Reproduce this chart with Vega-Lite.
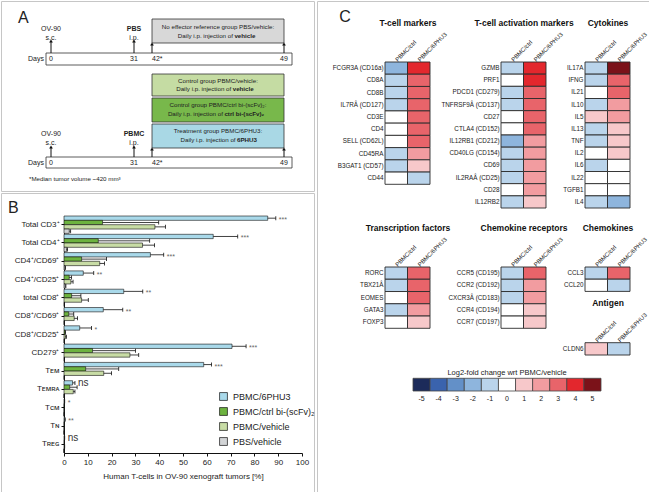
{
  "$schema": "https://vega.github.io/schema/vega-lite/v6.json",
  "padding": 0,
  "background": "white",
  "config": {
    "font": "Liberation Sans",
    "view": {"stroke": null},
    "axis": {"grid": false, "labelColor": "#222", "domainColor": "#111", "tickColor": "#111", "titleColor": "#222", "titleFontWeight": "normal"}
  },
  "datasets": {
    "tcells": [
      {"cat": "Total CD3⁺", "grp": "PBMC/6PHU3", "mean": 85.6, "upper": 89, "sig": "***"},
      {"cat": "Total CD3⁺", "grp": "PBMC/ctrl bi-(scFv)₂", "mean": 16.2, "upper": 39.8},
      {"cat": "Total CD3⁺", "grp": "PBMC/vehicle", "mean": 38.2, "upper": 42.6},
      {"cat": "Total CD3⁺", "grp": "PBS/vehicle", "mean": 2.2, "upper": 2.8},
      {"cat": "Total CD4⁺", "grp": "PBMC/6PHU3", "mean": 62.7, "upper": 73, "sig": "***"},
      {"cat": "Total CD4⁺", "grp": "PBMC/ctrl bi-(scFv)₂", "mean": 14.4, "upper": 36},
      {"cat": "Total CD4⁺", "grp": "PBMC/vehicle", "mean": 33, "upper": 38},
      {"cat": "Total CD4⁺", "grp": "PBS/vehicle", "mean": 1.1, "upper": 1.5},
      {"cat": "CD4⁺/CD69⁺", "grp": "PBMC/6PHU3", "mean": 36.3, "upper": 41.9, "sig": "***"},
      {"cat": "CD4⁺/CD69⁺", "grp": "PBMC/ctrl bi-(scFv)₂", "mean": 7.4, "upper": 17.9},
      {"cat": "CD4⁺/CD69⁺", "grp": "PBMC/vehicle", "mean": 15, "upper": 17},
      {"cat": "CD4⁺/CD69⁺", "grp": "PBS/vehicle", "mean": 0.4, "upper": 0.6},
      {"cat": "CD4⁺/CD25⁺", "grp": "PBMC/6PHU3", "mean": 8.1, "upper": 12.5, "sig": "**"},
      {"cat": "CD4⁺/CD25⁺", "grp": "PBMC/ctrl bi-(scFv)₂", "mean": 2.2, "upper": 3.2},
      {"cat": "CD4⁺/CD25⁺", "grp": "PBMC/vehicle", "mean": 2.9, "upper": 3.8},
      {"cat": "CD4⁺/CD25⁺", "grp": "PBS/vehicle", "mean": 0.5, "upper": 0.8},
      {"cat": "total CD8⁺", "grp": "PBMC/6PHU3", "mean": 25.1, "upper": 33.1, "sig": "**"},
      {"cat": "total CD8⁺", "grp": "PBMC/ctrl bi-(scFv)₂", "mean": 3.2, "upper": 7.1},
      {"cat": "total CD8⁺", "grp": "PBMC/vehicle", "mean": 7.4, "upper": 10.2},
      {"cat": "total CD8⁺", "grp": "PBS/vehicle", "mean": 0.1, "upper": 0.2},
      {"cat": "CD8⁺/CD69⁺", "grp": "PBMC/6PHU3", "mean": 16.5, "upper": 24.7, "sig": "**"},
      {"cat": "CD8⁺/CD69⁺", "grp": "PBMC/ctrl bi-(scFv)₂", "mean": 2, "upper": 4.1},
      {"cat": "CD8⁺/CD69⁺", "grp": "PBMC/vehicle", "mean": 4.3, "upper": 5.7},
      {"cat": "CD8⁺/CD69⁺", "grp": "PBS/vehicle", "mean": 0.1, "upper": 0.1},
      {"cat": "CD8⁺/CD25⁺", "grp": "PBMC/6PHU3", "mean": 6.6, "upper": 11.6, "sig": "*"},
      {"cat": "CD8⁺/CD25⁺", "grp": "PBMC/ctrl bi-(scFv)₂", "mean": 0.4, "upper": 0.6},
      {"cat": "CD8⁺/CD25⁺", "grp": "PBMC/vehicle", "mean": 0.6, "upper": 1},
      {"cat": "CD8⁺/CD25⁺", "grp": "PBS/vehicle", "mean": 0.1, "upper": 0.1},
      {"cat": "CD279⁺", "grp": "PBMC/6PHU3", "mean": 70.6, "upper": 76.5, "sig": "***"},
      {"cat": "CD279⁺", "grp": "PBMC/ctrl bi-(scFv)₂", "mean": 12, "upper": 30},
      {"cat": "CD279⁺", "grp": "PBMC/vehicle", "mean": 27.7, "upper": 31.4},
      {"cat": "CD279⁺", "grp": "PBS/vehicle", "mean": 0.1, "upper": 0.2},
      {"cat": "Tᴇᴍ", "grp": "PBMC/6PHU3", "mean": 58.7, "upper": 62, "sig": "***"},
      {"cat": "Tᴇᴍ", "grp": "PBMC/ctrl bi-(scFv)₂", "mean": 9.1, "upper": 23},
      {"cat": "Tᴇᴍ", "grp": "PBMC/vehicle", "mean": 16.7, "upper": 20},
      {"cat": "Tᴇᴍ", "grp": "PBS/vehicle", "mean": 0.1, "upper": 0.1},
      {"cat": "Tᴇᴍʀᴀ", "grp": "PBMC/6PHU3", "mean": 3.6, "upper": 4.6, "sig": "ns"},
      {"cat": "Tᴇᴍʀᴀ", "grp": "PBMC/ctrl bi-(scFv)₂", "mean": 2.4, "upper": 5.5},
      {"cat": "Tᴇᴍʀᴀ", "grp": "PBMC/vehicle", "mean": 3.9, "upper": 4.6},
      {"cat": "Tᴇᴍʀᴀ", "grp": "PBS/vehicle", "mean": 0.05, "upper": 0.05},
      {"cat": "Tᴄᴍ", "grp": "PBMC/6PHU3", "mean": 0.2, "upper": 0.3, "sig": "*"},
      {"cat": "Tᴄᴍ", "grp": "PBMC/ctrl bi-(scFv)₂", "mean": 0.1, "upper": 0.1},
      {"cat": "Tᴄᴍ", "grp": "PBMC/vehicle", "mean": 0.1, "upper": 0.1},
      {"cat": "Tᴄᴍ", "grp": "PBS/vehicle", "mean": 0, "upper": 0},
      {"cat": "Tɴ", "grp": "PBMC/6PHU3", "mean": 0.3, "upper": 0.5, "sig": "**"},
      {"cat": "Tɴ", "grp": "PBMC/ctrl bi-(scFv)₂", "mean": 0.1, "upper": 0.1},
      {"cat": "Tɴ", "grp": "PBMC/vehicle", "mean": 0.1, "upper": 0.1},
      {"cat": "Tɴ", "grp": "PBS/vehicle", "mean": 0, "upper": 0},
      {"cat": "Tʀᴇɢ", "grp": "PBMC/6PHU3", "mean": 0.2, "upper": 0.3, "sig": "ns"},
      {"cat": "Tʀᴇɢ", "grp": "PBMC/ctrl bi-(scFv)₂", "mean": 0.1, "upper": 0.2},
      {"cat": "Tʀᴇɢ", "grp": "PBMC/vehicle", "mean": 0.2, "upper": 0.3},
      {"cat": "Tʀᴇɢ", "grp": "PBS/vehicle", "mean": 0, "upper": 0}
    ],
    "hm": [
      {"g": "T-cell markers", "gene": "FCGR3A (CD16a)", "PBMC/ctrl": -2, "PBMC/6PHU3": 4},
      {"g": "T-cell markers", "gene": "CD8A", "PBMC/ctrl": -1, "PBMC/6PHU3": 3},
      {"g": "T-cell markers", "gene": "CD8B", "PBMC/ctrl": -1, "PBMC/6PHU3": 3},
      {"g": "T-cell markers", "gene": "IL7RÂ (CD127)", "PBMC/ctrl": -1, "PBMC/6PHU3": 3},
      {"g": "T-cell markers", "gene": "CD3E", "PBMC/ctrl": 0, "PBMC/6PHU3": 3},
      {"g": "T-cell markers", "gene": "CD4", "PBMC/ctrl": 0, "PBMC/6PHU3": 3},
      {"g": "T-cell markers", "gene": "SELL (CD62L)", "PBMC/ctrl": 0, "PBMC/6PHU3": 3},
      {"g": "T-cell markers", "gene": "CD45RA", "PBMC/ctrl": -1, "PBMC/6PHU3": 2},
      {"g": "T-cell markers", "gene": "B3GAT1 (CD57)", "PBMC/ctrl": -1, "PBMC/6PHU3": 1},
      {"g": "T-cell markers", "gene": "CD44", "PBMC/ctrl": 0, "PBMC/6PHU3": -1},
      {"g": "T-cell activation markers", "gene": "GZMB", "PBMC/ctrl": -1, "PBMC/6PHU3": 4},
      {"g": "T-cell activation markers", "gene": "PRF1", "PBMC/ctrl": 0, "PBMC/6PHU3": 4},
      {"g": "T-cell activation markers", "gene": "PDCD1 (CD279)", "PBMC/ctrl": -1, "PBMC/6PHU3": 3},
      {"g": "T-cell activation markers", "gene": "TNFRSF9Â (CD137)", "PBMC/ctrl": -1, "PBMC/6PHU3": 3},
      {"g": "T-cell activation markers", "gene": "CD27", "PBMC/ctrl": 0, "PBMC/6PHU3": 3},
      {"g": "T-cell activation markers", "gene": "CTLA4 (CD152)", "PBMC/ctrl": 0, "PBMC/6PHU3": 3},
      {"g": "T-cell activation markers", "gene": "IL12RB1 (CD212)", "PBMC/ctrl": -2, "PBMC/6PHU3": 2},
      {"g": "T-cell activation markers", "gene": "CD40LG (CD154)", "PBMC/ctrl": -1, "PBMC/6PHU3": 2},
      {"g": "T-cell activation markers", "gene": "CD69", "PBMC/ctrl": -1, "PBMC/6PHU3": 2},
      {"g": "T-cell activation markers", "gene": "IL2RAÂ (CD25)", "PBMC/ctrl": -1, "PBMC/6PHU3": 2},
      {"g": "T-cell activation markers", "gene": "CD28", "PBMC/ctrl": 0, "PBMC/6PHU3": 2},
      {"g": "T-cell activation markers", "gene": "IL12RB2", "PBMC/ctrl": -1, "PBMC/6PHU3": 1},
      {"g": "Cytokines", "gene": "IL17A", "PBMC/ctrl": -1, "PBMC/6PHU3": 5},
      {"g": "Cytokines", "gene": "IFNG", "PBMC/ctrl": -1, "PBMC/6PHU3": 3},
      {"g": "Cytokines", "gene": "IL21", "PBMC/ctrl": 0, "PBMC/6PHU3": 3},
      {"g": "Cytokines", "gene": "IL10", "PBMC/ctrl": -1, "PBMC/6PHU3": 2},
      {"g": "Cytokines", "gene": "IL5", "PBMC/ctrl": 1, "PBMC/6PHU3": 2},
      {"g": "Cytokines", "gene": "IL13", "PBMC/ctrl": -1, "PBMC/6PHU3": 1},
      {"g": "Cytokines", "gene": "TNF", "PBMC/ctrl": -1, "PBMC/6PHU3": 1},
      {"g": "Cytokines", "gene": "IL2", "PBMC/ctrl": 0, "PBMC/6PHU3": 1},
      {"g": "Cytokines", "gene": "IL6", "PBMC/ctrl": -1, "PBMC/6PHU3": 0},
      {"g": "Cytokines", "gene": "IL22", "PBMC/ctrl": 0, "PBMC/6PHU3": 0},
      {"g": "Cytokines", "gene": "TGFB1", "PBMC/ctrl": 0, "PBMC/6PHU3": 0},
      {"g": "Cytokines", "gene": "IL4", "PBMC/ctrl": -1, "PBMC/6PHU3": -2},
      {"g": "Transcription factors", "gene": "RORC", "PBMC/ctrl": -1, "PBMC/6PHU3": 3},
      {"g": "Transcription factors", "gene": "TBX21Â", "PBMC/ctrl": -1, "PBMC/6PHU3": 3},
      {"g": "Transcription factors", "gene": "EOMES", "PBMC/ctrl": 0, "PBMC/6PHU3": 3},
      {"g": "Transcription factors", "gene": "GATA3", "PBMC/ctrl": -1, "PBMC/6PHU3": 2},
      {"g": "Transcription factors", "gene": "FOXP3", "PBMC/ctrl": 0, "PBMC/6PHU3": 1},
      {"g": "Chemokine receptors", "gene": "CCR5 (CD195)", "PBMC/ctrl": -1, "PBMC/6PHU3": 3},
      {"g": "Chemokine receptors", "gene": "CCR2 (CD192)", "PBMC/ctrl": -1, "PBMC/6PHU3": 2},
      {"g": "Chemokine receptors", "gene": "CXCR3Â (CD183)", "PBMC/ctrl": -1, "PBMC/6PHU3": 2},
      {"g": "Chemokine receptors", "gene": "CCR4 (CD194)", "PBMC/ctrl": 0, "PBMC/6PHU3": 1},
      {"g": "Chemokine receptors", "gene": "CCR7 (CD197)", "PBMC/ctrl": 0, "PBMC/6PHU3": 1},
      {"g": "Chemokines", "gene": "CCL3", "PBMC/ctrl": -1, "PBMC/6PHU3": 3},
      {"g": "Chemokines", "gene": "CCL20", "PBMC/ctrl": 0, "PBMC/6PHU3": -1},
      {"g": "Antigen", "gene": "CLDN6", "PBMC/ctrl": 1, "PBMC/6PHU3": -1}
    ]
  },
  "resolve": {"scale": {"color": "independent", "fill": "independent"}, "legend": {"color": "independent", "fill": "independent"}},
  "spacing": 0,
  "hconcat": [
    {
      "spacing": 0,
      "resolve": {"scale": {"color": "independent", "fill": "independent"}, "legend": {"color": "independent", "fill": "independent"}},
      "vconcat": [
        {
          "width": 313,
          "height": 190,
          "view": {"stroke": "#c6c6c6", "strokeWidth": 1},
          "encoding": {
            "x": {"field": "day", "type": "quantitative", "scale": {"domain": [-19, -2, 0, 31, 42, 49, 51, 55], "range": [0, 45, 50, 133, 151, 283, 291, 313], "nice": false, "zero": false}, "axis": null},
            "y": {"field": "v", "type": "quantitative", "scale": {"domain": [0, 19], "reverse": true, "nice": false, "zero": false}, "axis": null}
          },
          "layer": [
            {
              "data": {"values": [{"day": -2, "day2": 51, "v": 5.2, "v2": 6.4}, {"day": -2, "day2": 51, "v": 15.6, "v2": 16.7}]},
              "mark": {"type": "rect", "fill": "white", "stroke": "#333", "strokeWidth": 0.8},
              "encoding": {"x2": {"field": "day2"}, "y2": {"field": "v2"}}
            },
            {
              "data": {"values": [
                {"grp": "PBS/vehicle", "day": 42, "day2": 49, "v": 1.8, "v2": 4.2},
                {"grp": "PBMC/vehicle", "day": 42, "day2": 49, "v": 7.3, "v2": 9.5},
                {"grp": "PBMC/ctrl bi-(scFv)₂", "day": 42, "day2": 49, "v": 9.7, "v2": 12.1},
                {"grp": "PBMC/6PHU3", "day": 42, "day2": 49, "v": 12.3, "v2": 14.7}
              ]},
              "mark": {"type": "rect", "stroke": "#333", "strokeWidth": 0.8},
              "encoding": {
                "x2": {"field": "day2"}, "y2": {"field": "v2"},
                "fill": {"field": "grp", "type": "nominal", "scale": {"domain": ["PBMC/6PHU3", "PBMC/ctrl bi-(scFv)₂", "PBMC/vehicle", "PBS/vehicle"], "range": ["#a9d8e5", "#78b84b", "#c5dca3", "#d8d8d8"]}, "legend": null}
              }
            },
            {
              "data": {"name": "arrows", "values": [
                {"day": 0, "v": 4.0, "v2": 5.2}, {"day": 31, "v": 4.0, "v2": 5.2}, {"day": 42, "v": 4.3, "v2": 5.2}, {"day": 49, "v": 4.3, "v2": 5.2},
                {"day": 0, "v": 14.6, "v2": 15.6}, {"day": 31, "v": 14.6, "v2": 15.6}, {"day": 42, "v": 14.8, "v2": 15.6}, {"day": 49, "v": 14.8, "v2": 15.6}
              ]},
              "mark": {"type": "rule", "color": "#111", "strokeWidth": 1},
              "encoding": {"y2": {"field": "v2"}}
            },
            {
              "data": {"name": "arrows"},
              "mark": {"type": "point", "shape": "triangle-up", "filled": true, "color": "#111", "size": 14, "opacity": 1},
              "encoding": {}
            },
            {
              "data": {"values": [
                {"day": 0, "v": 2.8, "t": "OV-90"}, {"day": 0, "v": 3.65, "t": "s.c."}, {"day": 31, "v": 3.65, "t": "i.p."},
                {"day": 0, "v": 13.3, "t": "OV-90"}, {"day": 0, "v": 14.15, "t": "s.c."}, {"day": 31, "v": 14.15, "t": "i.p."},
                {"day": 0, "v": 5.8, "t": "0"}, {"day": 31, "v": 5.8, "t": "31"}, {"day": 49, "v": 5.8, "t": "49"},
                {"day": 0, "v": 16.15, "t": "0"}, {"day": 31, "v": 16.15, "t": "31"}, {"day": 49, "v": 16.15, "t": "49"}
              ]},
              "mark": {"type": "text", "fontSize": 7, "baseline": "middle", "color": "#222"},
              "encoding": {"text": {"field": "t"}}
            },
            {
              "data": {"values": [{"day": 31, "v": 2.8, "t": "PBS"}, {"day": 31, "v": 13.3, "t": "PBMC"}]},
              "mark": {"type": "text", "fontSize": 7, "fontWeight": "bold", "baseline": "middle", "color": "#222"},
              "encoding": {"text": {"field": "t"}}
            },
            {
              "data": {"values": [{"day": 42, "v": 5.8, "t": "42*"}, {"day": 42, "v": 16.15, "t": "42*"}]},
              "mark": {"type": "text", "fontSize": 7, "align": "left", "baseline": "middle", "color": "#222"},
              "encoding": {"text": {"field": "t"}}
            },
            {
              "data": {"values": [{"day": -2, "v": 5.8, "t": "Days"}, {"day": -2, "v": 16.15, "t": "Days"}]},
              "mark": {"type": "text", "fontSize": 7, "align": "right", "dx": -2, "baseline": "middle", "color": "#222"},
              "encoding": {"text": {"field": "t"}}
            },
            {
              "data": {"values": [
                {"day": 45.5, "v": 2.6, "t": "No effector reference group PBS/vehicle:"},
                {"day": 45.5, "v": 8.0, "t": "Control group PBMC/vehicle:"},
                {"day": 45.5, "v": 10.4, "t": "Control group PBMC/ctrl bi-(scFv)₂:"},
                {"day": 45.5, "v": 13.0, "t": "Treatment group PBMC/6PHU3:"}
              ]},
              "mark": {"type": "text", "fontSize": 6.2, "baseline": "middle", "color": "#222"},
              "encoding": {"text": {"field": "t"}}
            },
            {
              "data": {"values": [
                {"day": 46.37, "v": 3.5, "t": "Daily i.p. injection of"},
                {"day": 46.28, "v": 8.8, "t": "Daily i.p. injection of"},
                {"day": 45.84, "v": 11.3, "t": "Daily i.p. injection of"},
                {"day": 46.51, "v": 13.9, "t": "Daily i.p. injection of"}
              ]},
              "mark": {"type": "text", "fontSize": 6.2, "align": "right", "dx": -1.5, "baseline": "middle", "color": "#222"},
              "encoding": {"text": {"field": "t"}}
            },
            {
              "data": {"values": [
                {"day": 46.37, "v": 3.5, "t": "vehicle"},
                {"day": 46.28, "v": 8.8, "t": "vehicle"},
                {"day": 45.84, "v": 11.3, "t": "ctrl bi-(scFv)₂"},
                {"day": 46.51, "v": 13.9, "t": "6PHU3"}
              ]},
              "mark": {"type": "text", "fontSize": 6.2, "fontWeight": "bold", "align": "left", "baseline": "middle", "color": "#222"},
              "encoding": {"text": {"field": "t"}}
            },
            {
              "data": {"values": [{"day": -2, "v": 17.75, "t": "*Median tumor volume ~420 mm³"}]},
              "mark": {"type": "text", "fontSize": 6.2, "align": "left", "dx": -17, "baseline": "middle", "color": "#222"},
              "encoding": {"text": {"field": "t"}}
            },
            {
              "data": {"values": [{"day": -19, "v": 2.2, "t": "A"}]},
              "mark": {"type": "text", "fontSize": 16, "align": "left", "baseline": "alphabetic", "dx": 17, "color": "#222"},
              "encoding": {"text": {"field": "t"}}
            }
          ]
        },
        {
          "width": 313,
          "height": 301,
          "view": {"stroke": "#c6c6c6", "strokeWidth": 1},
          "data": {"name": "tcells"},
          "encoding": {
            "y": {"field": "cat", "type": "nominal",
              "sort": ["Total CD3⁺", "Total CD4⁺", "CD4⁺/CD69⁺", "CD4⁺/CD25⁺", "total CD8⁺", "CD8⁺/CD69⁺", "CD8⁺/CD25⁺", "CD279⁺", "Tᴇᴍ", "Tᴇᴍʀᴀ", "Tᴄᴍ", "Tɴ", "Tʀᴇɢ"],
              "scale": {"range": [23, 260], "paddingInner": 0.05, "paddingOuter": 0},
              "axis": {"offset": -63, "title": null, "labelFontSize": 8, "tickSize": 3, "labelPadding": 2, "labelLimit": 0}}
          },
          "layer": [
            {
              "mark": {"type": "bar", "stroke": "#111", "strokeWidth": 0.6},
              "encoding": {
                "yOffset": {"field": "grp", "type": "nominal", "sort": ["PBMC/6PHU3", "PBMC/ctrl bi-(scFv)₂", "PBMC/vehicle", "PBS/vehicle"], "scale": {"paddingInner": 0, "paddingOuter": 0}},
                "x": {"field": "mean", "type": "quantitative",
                  "scale": {"domain": [0, 100], "range": [63, 301], "nice": false},
                  "axis": {"orient": "bottom", "offset": -41, "values": [0, 10, 20, 30, 40, 50, 60, 70, 80, 90, 100], "tickCount": 11, "labelOverlap": false, "labelFlush": false, "title": "Human T-cells in OV-90 xenograft tumors [%]", "titleFontSize": 8, "titlePadding": 6, "labelFontSize": 8, "tickSize": 3}},
                "color": {"field": "grp", "type": "nominal",
                  "scale": {"domain": ["PBMC/6PHU3", "PBMC/ctrl bi-(scFv)₂", "PBMC/vehicle", "PBS/vehicle"], "range": ["#a9d9ea", "#6db33f", "#c8dca5", "#d2d4d6"]},
                  "legend": {"orient": "none", "legendX": 218, "legendY": 199, "title": null, "symbolType": "square", "symbolSize": 62, "symbolStrokeColor": "#111", "symbolStrokeWidth": 0.7, "symbolOpacity": 1, "labelFontSize": 9, "labelColor": "#222", "rowPadding": 4, "labelOffset": 5}}
              }
            },
            {
              "mark": {"type": "rule", "color": "#111", "strokeWidth": 0.8},
              "encoding": {
                "yOffset": {"field": "grp", "type": "nominal", "sort": ["PBMC/6PHU3", "PBMC/ctrl bi-(scFv)₂", "PBMC/vehicle", "PBS/vehicle"], "scale": {"paddingInner": 0, "paddingOuter": 0}},
                "x": {"field": "mean", "type": "quantitative", "axis": {"orient": "bottom", "offset": -41, "values": [0, 10, 20, 30, 40, 50, 60, 70, 80, 90, 100], "tickCount": 11, "labelOverlap": false, "labelFlush": false, "title": "Human T-cells in OV-90 xenograft tumors [%]", "titleFontSize": 8, "titlePadding": 6, "labelFontSize": 8, "tickSize": 3}},
                "x2": {"field": "upper"}
              }
            },
            {
              "mark": {"type": "tick", "color": "#111", "thickness": 0.8, "size": 4, "opacity": 1},
              "encoding": {
                "yOffset": {"field": "grp", "type": "nominal", "sort": ["PBMC/6PHU3", "PBMC/ctrl bi-(scFv)₂", "PBMC/vehicle", "PBS/vehicle"], "scale": {"paddingInner": 0, "paddingOuter": 0}},
                "x": {"field": "upper", "type": "quantitative", "axis": {"orient": "bottom", "offset": -41, "values": [0, 10, 20, 30, 40, 50, 60, 70, 80, 90, 100], "tickCount": 11, "labelOverlap": false, "labelFlush": false, "title": "Human T-cells in OV-90 xenograft tumors [%]", "titleFontSize": 8, "titlePadding": 6, "labelFontSize": 8, "tickSize": 3}}
              }
            },
            {
              "transform": [{"filter": "datum.sig && datum.sig != 'ns'"}],
              "mark": {"type": "text", "align": "left", "baseline": "middle", "dx": 3, "dy": 2, "fontSize": 7, "color": "#666"},
              "encoding": {
                "yOffset": {"field": "grp", "type": "nominal", "sort": ["PBMC/6PHU3", "PBMC/ctrl bi-(scFv)₂", "PBMC/vehicle", "PBS/vehicle"], "scale": {"paddingInner": 0, "paddingOuter": 0}},
                "x": {"field": "upper", "type": "quantitative", "axis": {"orient": "bottom", "offset": -41, "values": [0, 10, 20, 30, 40, 50, 60, 70, 80, 90, 100], "tickCount": 11, "labelOverlap": false, "labelFlush": false, "title": "Human T-cells in OV-90 xenograft tumors [%]", "titleFontSize": 8, "titlePadding": 6, "labelFontSize": 8, "tickSize": 3}},
                "text": {"field": "sig"}
              }
            },
            {
              "transform": [{"filter": "datum.sig == 'ns'"}],
              "mark": {"type": "text", "align": "left", "baseline": "middle", "dx": 3, "fontSize": 10, "color": "#333"},
              "encoding": {
                "yOffset": {"field": "grp", "type": "nominal", "sort": ["PBMC/6PHU3", "PBMC/ctrl bi-(scFv)₂", "PBMC/vehicle", "PBS/vehicle"], "scale": {"paddingInner": 0, "paddingOuter": 0}},
                "x": {"field": "upper", "type": "quantitative", "axis": {"orient": "bottom", "offset": -41, "values": [0, 10, 20, 30, 40, 50, 60, 70, 80, 90, 100], "tickCount": 11, "labelOverlap": false, "labelFlush": false, "title": "Human T-cells in OV-90 xenograft tumors [%]", "titleFontSize": 8, "titlePadding": 6, "labelFontSize": 8, "tickSize": 3}},
                "text": {"field": "sig"}
              }
            },
            {
              "data": {"values": [{"t": "B"}]},
              "mark": {"type": "text", "fontSize": 16, "align": "left", "baseline": "alphabetic", "dx": -56, "dy": -11.7, "color": "#222"},
              "encoding": {
                "x": {"datum": 0, "type": "quantitative", "axis": {"orient": "bottom", "offset": -41, "values": [0, 10, 20, 30, 40, 50, 60, 70, 80, 90, 100], "tickCount": 11, "labelOverlap": false, "labelFlush": false, "title": "Human T-cells in OV-90 xenograft tumors [%]", "titleFontSize": 8, "titlePadding": 6, "labelFontSize": 8, "tickSize": 3}},
                "y": {"datum": "Total CD3⁺", "type": "nominal"},
                "text": {"field": "t"}
              }
            }
          ]
        }
      ]
    },
    {
      "width": 334,
      "height": 491,
      "view": {"stroke": "#c6c6c6", "strokeWidth": 1},
      "resolve": {"scale": {"x": "independent", "y": "independent"}, "axis": {"x": "independent", "y": "independent"}},
      "layer": [
        {
          "data": {"name": "hm"},
          "transform": [{"filter": {"field": "g", "equal": "T-cell markers"}}, {"fold": ["PBMC/ctrl", "PBMC/6PHU3"], "as": ["cond", "lfc"]}],
          "encoding": {
            "x": {"field": "cond", "type": "nominal", "sort": ["PBMC/ctrl", "PBMC/6PHU3"], "scale": {"range": [68, 113], "paddingInner": 0, "paddingOuter": 0},
              "axis": {"orient": "top", "offset": -61, "title": "T-cell markers", "titleFontSize": 8.5, "titleFontWeight": "bold", "titleColor": "#111", "titlePadding": 3, "minExtent": 32, "maxExtent": 32, "labelAngle": -45, "labelAlign": "left", "labelBaseline": "middle", "ticks": false, "domain": false, "labelFontSize": 6, "labelPadding": 2}},
            "y": {"field": "gene", "type": "nominal", "sort": null, "scale": {"range": [61, 183.3], "paddingInner": 0, "paddingOuter": 0},
              "axis": {"orient": "left", "offset": -68, "title": null, "ticks": false, "domain": false, "labelFontSize": 6.3, "labelPadding": 2, "labelLimit": 0}}
          },
          "layer": [
            {
              "mark": {"type": "rect", "stroke": "#2b2b2b", "strokeWidth": 0.9},
              "encoding": {
                "fill": {"field": "lfc", "type": "ordinal", "scale": {"domain": [-5, -4, -3, -2, -1, 0, 1, 2, 3, 4, 5], "range": ["#1c2b5a", "#3a63ad", "#6390c8", "#8eb5dd", "#bad4eb", "#ffffff", "#f7c8ca", "#f29ca0", "#e8646a", "#e3272d", "#7b1219"]}, "legend": null}
              }
            },
            {
              "transform": [{"filter": "datum.gene == 'FCGR3A (CD16a)' && datum.cond == 'PBMC/ctrl'"}],
              "mark": {"type": "text", "text": "C", "fontSize": 16, "align": "left", "baseline": "alphabetic", "dx": -57, "dy": -46, "color": "#222"}
            }
          ]
        },
        {
          "data": {"name": "hm"},
          "transform": [{"filter": {"field": "g", "equal": "T-cell activation markers"}}, {"fold": ["PBMC/ctrl", "PBMC/6PHU3"], "as": ["cond", "lfc"]}],
          "mark": {"type": "rect", "stroke": "#2b2b2b", "strokeWidth": 0.9},
          "encoding": {
            "x": {"field": "cond", "type": "nominal", "sort": ["PBMC/ctrl", "PBMC/6PHU3"], "scale": {"range": [184, 229], "paddingInner": 0, "paddingOuter": 0},
              "axis": {"orient": "top", "offset": -61, "title": "T-cell activation markers", "titleFontSize": 8.5, "titleFontWeight": "bold", "titleColor": "#111", "titlePadding": 3, "minExtent": 32, "maxExtent": 32, "labelAngle": -45, "labelAlign": "left", "labelBaseline": "middle", "ticks": false, "domain": false, "labelFontSize": 6, "labelPadding": 2}},
            "y": {"field": "gene", "type": "nominal", "sort": null, "scale": {"range": [61, 207], "paddingInner": 0, "paddingOuter": 0},
              "axis": {"orient": "left", "offset": -184, "title": null, "ticks": false, "domain": false, "labelFontSize": 6.3, "labelPadding": 2, "labelLimit": 0}},
            "fill": {"field": "lfc", "type": "ordinal", "scale": {"domain": [-5, -4, -3, -2, -1, 0, 1, 2, 3, 4, 5], "range": ["#1c2b5a", "#3a63ad", "#6390c8", "#8eb5dd", "#bad4eb", "#ffffff", "#f7c8ca", "#f29ca0", "#e8646a", "#e3272d", "#7b1219"]}, "legend": null}
          }
        },
        {
          "data": {"name": "hm"},
          "transform": [{"filter": {"field": "g", "equal": "Cytokines"}}, {"fold": ["PBMC/ctrl", "PBMC/6PHU3"], "as": ["cond", "lfc"]}],
          "mark": {"type": "rect", "stroke": "#2b2b2b", "strokeWidth": 0.9},
          "encoding": {
            "x": {"field": "cond", "type": "nominal", "sort": ["PBMC/ctrl", "PBMC/6PHU3"], "scale": {"range": [268, 313], "paddingInner": 0, "paddingOuter": 0},
              "axis": {"orient": "top", "offset": -61, "title": "Cytokines", "titleFontSize": 8.5, "titleFontWeight": "bold", "titleColor": "#111", "titlePadding": 3, "minExtent": 32, "maxExtent": 32, "labelAngle": -45, "labelAlign": "left", "labelBaseline": "middle", "ticks": false, "domain": false, "labelFontSize": 6, "labelPadding": 2}},
            "y": {"field": "gene", "type": "nominal", "sort": null, "scale": {"range": [61, 207], "paddingInner": 0, "paddingOuter": 0},
              "axis": {"orient": "left", "offset": -268, "title": null, "ticks": false, "domain": false, "labelFontSize": 6.3, "labelPadding": 2, "labelLimit": 0}},
            "fill": {"field": "lfc", "type": "ordinal", "scale": {"domain": [-5, -4, -3, -2, -1, 0, 1, 2, 3, 4, 5], "range": ["#1c2b5a", "#3a63ad", "#6390c8", "#8eb5dd", "#bad4eb", "#ffffff", "#f7c8ca", "#f29ca0", "#e8646a", "#e3272d", "#7b1219"]}, "legend": null}
          }
        },
        {
          "data": {"name": "hm"},
          "transform": [{"filter": {"field": "g", "equal": "Transcription factors"}}, {"fold": ["PBMC/ctrl", "PBMC/6PHU3"], "as": ["cond", "lfc"]}],
          "mark": {"type": "rect", "stroke": "#2b2b2b", "strokeWidth": 0.9},
          "encoding": {
            "x": {"field": "cond", "type": "nominal", "sort": ["PBMC/ctrl", "PBMC/6PHU3"], "scale": {"range": [68, 113], "paddingInner": 0, "paddingOuter": 0},
              "axis": {"orient": "top", "offset": -266, "title": "Transcription factors", "titleFontSize": 8.5, "titleFontWeight": "bold", "titleColor": "#111", "titlePadding": 3, "minExtent": 32, "maxExtent": 32, "labelAngle": -45, "labelAlign": "left", "labelBaseline": "middle", "ticks": false, "domain": false, "labelFontSize": 6, "labelPadding": 2}},
            "y": {"field": "gene", "type": "nominal", "sort": null, "scale": {"range": [266, 327.3], "paddingInner": 0, "paddingOuter": 0},
              "axis": {"orient": "left", "offset": -68, "title": null, "ticks": false, "domain": false, "labelFontSize": 6.3, "labelPadding": 2, "labelLimit": 0}},
            "fill": {"field": "lfc", "type": "ordinal", "scale": {"domain": [-5, -4, -3, -2, -1, 0, 1, 2, 3, 4, 5], "range": ["#1c2b5a", "#3a63ad", "#6390c8", "#8eb5dd", "#bad4eb", "#ffffff", "#f7c8ca", "#f29ca0", "#e8646a", "#e3272d", "#7b1219"]}, "legend": null}
          }
        },
        {
          "data": {"name": "hm"},
          "transform": [{"filter": {"field": "g", "equal": "Chemokine receptors"}}, {"fold": ["PBMC/ctrl", "PBMC/6PHU3"], "as": ["cond", "lfc"]}],
          "mark": {"type": "rect", "stroke": "#2b2b2b", "strokeWidth": 0.9},
          "encoding": {
            "x": {"field": "cond", "type": "nominal", "sort": ["PBMC/ctrl", "PBMC/6PHU3"], "scale": {"range": [184, 229], "paddingInner": 0, "paddingOuter": 0},
              "axis": {"orient": "top", "offset": -266, "title": "Chemokine receptors", "titleFontSize": 8.5, "titleFontWeight": "bold", "titleColor": "#111", "titlePadding": 3, "minExtent": 32, "maxExtent": 32, "labelAngle": -45, "labelAlign": "left", "labelBaseline": "middle", "ticks": false, "domain": false, "labelFontSize": 6, "labelPadding": 2}},
            "y": {"field": "gene", "type": "nominal", "sort": null, "scale": {"range": [266, 327.3], "paddingInner": 0, "paddingOuter": 0},
              "axis": {"orient": "left", "offset": -184, "title": null, "ticks": false, "domain": false, "labelFontSize": 6.3, "labelPadding": 2, "labelLimit": 0}},
            "fill": {"field": "lfc", "type": "ordinal", "scale": {"domain": [-5, -4, -3, -2, -1, 0, 1, 2, 3, 4, 5], "range": ["#1c2b5a", "#3a63ad", "#6390c8", "#8eb5dd", "#bad4eb", "#ffffff", "#f7c8ca", "#f29ca0", "#e8646a", "#e3272d", "#7b1219"]}, "legend": null}
          }
        },
        {
          "data": {"name": "hm"},
          "transform": [{"filter": {"field": "g", "equal": "Chemokines"}}, {"fold": ["PBMC/ctrl", "PBMC/6PHU3"], "as": ["cond", "lfc"]}],
          "mark": {"type": "rect", "stroke": "#2b2b2b", "strokeWidth": 0.9},
          "encoding": {
            "x": {"field": "cond", "type": "nominal", "sort": ["PBMC/ctrl", "PBMC/6PHU3"], "scale": {"range": [268, 313], "paddingInner": 0, "paddingOuter": 0},
              "axis": {"orient": "top", "offset": -266, "title": "Chemokines", "titleFontSize": 8.5, "titleFontWeight": "bold", "titleColor": "#111", "titlePadding": 3, "minExtent": 32, "maxExtent": 32, "labelAngle": -45, "labelAlign": "left", "labelBaseline": "middle", "ticks": false, "domain": false, "labelFontSize": 6, "labelPadding": 2}},
            "y": {"field": "gene", "type": "nominal", "sort": null, "scale": {"range": [266, 290.4], "paddingInner": 0, "paddingOuter": 0},
              "axis": {"orient": "left", "offset": -268, "title": null, "ticks": false, "domain": false, "labelFontSize": 6.3, "labelPadding": 2, "labelLimit": 0}},
            "fill": {"field": "lfc", "type": "ordinal", "scale": {"domain": [-5, -4, -3, -2, -1, 0, 1, 2, 3, 4, 5], "range": ["#1c2b5a", "#3a63ad", "#6390c8", "#8eb5dd", "#bad4eb", "#ffffff", "#f7c8ca", "#f29ca0", "#e8646a", "#e3272d", "#7b1219"]}, "legend": null}
          }
        },
        {
          "data": {"name": "hm"},
          "transform": [{"filter": {"field": "g", "equal": "Antigen"}}, {"fold": ["PBMC/ctrl", "PBMC/6PHU3"], "as": ["cond", "lfc"]}],
          "mark": {"type": "rect", "stroke": "#2b2b2b", "strokeWidth": 0.9},
          "encoding": {
            "x": {"field": "cond", "type": "nominal", "sort": ["PBMC/ctrl", "PBMC/6PHU3"], "scale": {"range": [268, 313], "paddingInner": 0, "paddingOuter": 0},
              "axis": {"orient": "top", "offset": -341.7, "title": "Antigen", "titleFontSize": 8.5, "titleFontWeight": "bold", "titleColor": "#111", "titlePadding": 3, "minExtent": 32, "maxExtent": 32, "labelAngle": -45, "labelAlign": "left", "labelBaseline": "middle", "ticks": false, "domain": false, "labelFontSize": 6, "labelPadding": 2}},
            "y": {"field": "gene", "type": "nominal", "sort": null, "scale": {"range": [341.7, 354], "paddingInner": 0, "paddingOuter": 0},
              "axis": {"orient": "left", "offset": -268, "title": null, "ticks": false, "domain": false, "labelFontSize": 6.3, "labelPadding": 2, "labelLimit": 0}},
            "fill": {"field": "lfc", "type": "ordinal", "scale": {"domain": [-5, -4, -3, -2, -1, 0, 1, 2, 3, 4, 5], "range": ["#1c2b5a", "#3a63ad", "#6390c8", "#8eb5dd", "#bad4eb", "#ffffff", "#f7c8ca", "#f29ca0", "#e8646a", "#e3272d", "#7b1219"]}, "legend": null}
          }
        },
        {
          "data": {"values": [{"lfc": -5}, {"lfc": -4}, {"lfc": -3}, {"lfc": -2}, {"lfc": -1}, {"lfc": 0}, {"lfc": 1}, {"lfc": 2}, {"lfc": 3}, {"lfc": 4}, {"lfc": 5}]},
          "encoding": {
            "x": {"field": "lfc", "type": "ordinal", "scale": {"range": [96, 284], "paddingInner": 0, "paddingOuter": 0},
              "axis": {"orient": "bottom", "offset": -101, "title": null, "ticks": false, "domain": false, "labelAngle": 0, "labelFontSize": 7, "labelPadding": 3}},
            "y": {"datum": "bar", "type": "nominal", "scale": {"range": [377.3, 390], "paddingInner": 0, "paddingOuter": 0}, "axis": null}
          },
          "layer": [
            {
              "mark": {"type": "rect", "stroke": "#444", "strokeWidth": 0.8},
              "encoding": {
                "fill": {"field": "lfc", "type": "ordinal", "scale": {"domain": [-5, -4, -3, -2, -1, 0, 1, 2, 3, 4, 5], "range": ["#1c2b5a", "#3a63ad", "#6390c8", "#8eb5dd", "#bad4eb", "#ffffff", "#f7c8ca", "#f29ca0", "#e8646a", "#e3272d", "#7b1219"]}, "legend": null}
              }
            },
            {
              "transform": [{"filter": "datum.lfc == 0"}],
              "mark": {"type": "text", "dy": -12, "fontSize": 7.5, "color": "#222", "baseline": "middle"},
              "encoding": {"text": {"value": "Log2-fold change wrt PBMC/vehicle"}}
            }
          ]
        }
      ]
    }
  ]
}
